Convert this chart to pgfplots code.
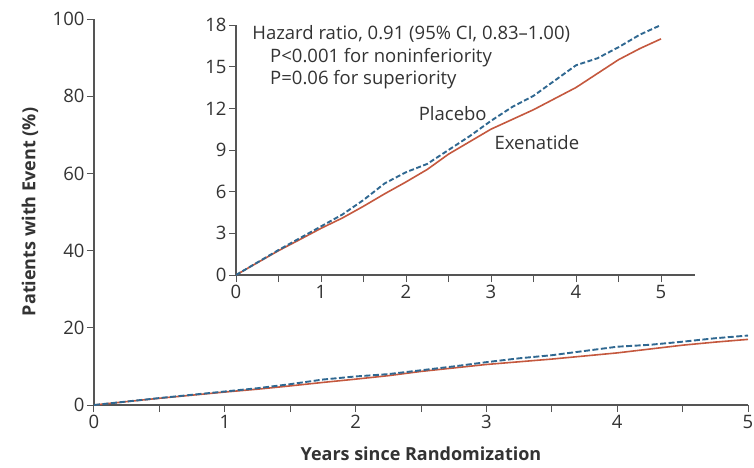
\documentclass[border=0pt]{standalone}
\usepackage{fontspec}
\setmainfont{Open Sans}
\usepackage{pgfplots}
\pgfplotsset{compat=1.18}
\definecolor{txt}{RGB}{51,51,51}
\definecolor{axgray}{RGB}{85,85,85}
\definecolor{plac}{RGB}{48,104,145}
\definecolor{exen}{RGB}{196,88,62}
\pgfplotsset{
  myaxis/.style={
    scale only axis,
    axis x line*=bottom, axis y line*=left,
    axis line style={-, draw=axgray, line width=1.1pt},
    tick style={draw=axgray, line width=1pt},
    tick align=outside,
    major tick length=7pt, minor tick length=7pt,
    xmin=0,
    xtick={0,1,2,3,4,5},
    minor xtick={0.5,1.5,2.5,3.5,4.5},
    tick label style={font=\fontsize{18.5}{20}\selectfont, text=txt},
    yticklabel style={xshift=1pt},
    /pgf/number format/assume math mode=true,
    clip=false,
  },
}
\pgfplotstableread{
x p
0 0
0.25 0.9
0.5 1.8
0.75 2.65
1.0 3.5
1.25 4.35
1.5 5.4
1.75 6.6
2.0 7.4
2.25 8.0
2.5 9.0
2.75 10.0
3.0 11.1
3.25 12.1
3.5 12.9
3.75 14.0
4.0 15.1
4.25 15.6
4.5 16.4
4.75 17.3
5.0 18.0
}\placebo
\pgfplotstableread{
x e
0 0
0.25 0.88
0.5 1.75
0.75 2.55
1.0 3.36
1.25 4.1
1.5 4.95
1.75 5.85
2.0 6.7
2.25 7.6
2.5 8.7
2.75 9.6
3.0 10.5
3.25 11.2
3.5 11.9
3.75 12.7
4.0 13.5
4.25 14.5
4.5 15.5
4.75 16.3
5.0 17.0
}\exenatide
\begin{document}
\begin{tikzpicture}
\useasboundingbox (-94pt,-62pt) rectangle (660pt,405pt);
\begin{axis}[myaxis,
  at={(0pt,0pt)}, anchor=south west,
  width=654pt, height=386pt,
  xmax=5, ymin=0, ymax=100,
  ytick={0,20,40,60,80,100},
  xlabel={\bfseries Years since Randomization},
  ylabel={\bfseries Patients with Event (\%)},
  label style={font=\fontsize{18}{20}\selectfont, text=txt},
  xlabel style={at={(axis description cs:0.5,-0.127)}, anchor=center},
  ylabel style={at={(axis description cs:-0.098,0.5)}, anchor=center},
]
\addplot[exen, line width=1.6pt] table[x=x,y=e] {\exenatide};
\addplot[plac, line width=1.9pt, dash pattern=on 6pt off 2.5pt] table[x=x,y=p] {\placebo};
\end{axis}
\begin{axis}[myaxis,
  at={(142pt,130pt)}, anchor=south west,
  width=459pt, height=250pt,
  xmax=5.4, ymin=0, ymax=18,
  ytick={0,3,6,9,12,15,18},
]
\addplot[exen, line width=1.6pt] table[x=x,y=e] {\exenatide};
\addplot[plac, line width=1.9pt, dash pattern=on 5pt off 2.5pt] table[x=x,y=p] {\placebo};
\begin{scope}[every node/.style={font=\fontsize{18.5}{20}\selectfont, text=txt, inner sep=0pt}]
\node[anchor=west] at (axis cs:0.19,17.34) {Hazard ratio, 0.91 (95\% CI, 0.83\textendash1.00)};
\node[anchor=west] at (axis cs:0.40,15.68) {P<0.001 for noninferiority};
\node[anchor=west] at (axis cs:0.40,14.10) {P=0.06 for superiority};
\node at (axis cs:2.55,11.65) {Placebo};
\node at (axis cs:3.54,9.57) {Exenatide};
\end{scope}
\end{axis}
\end{tikzpicture}
\end{document}
